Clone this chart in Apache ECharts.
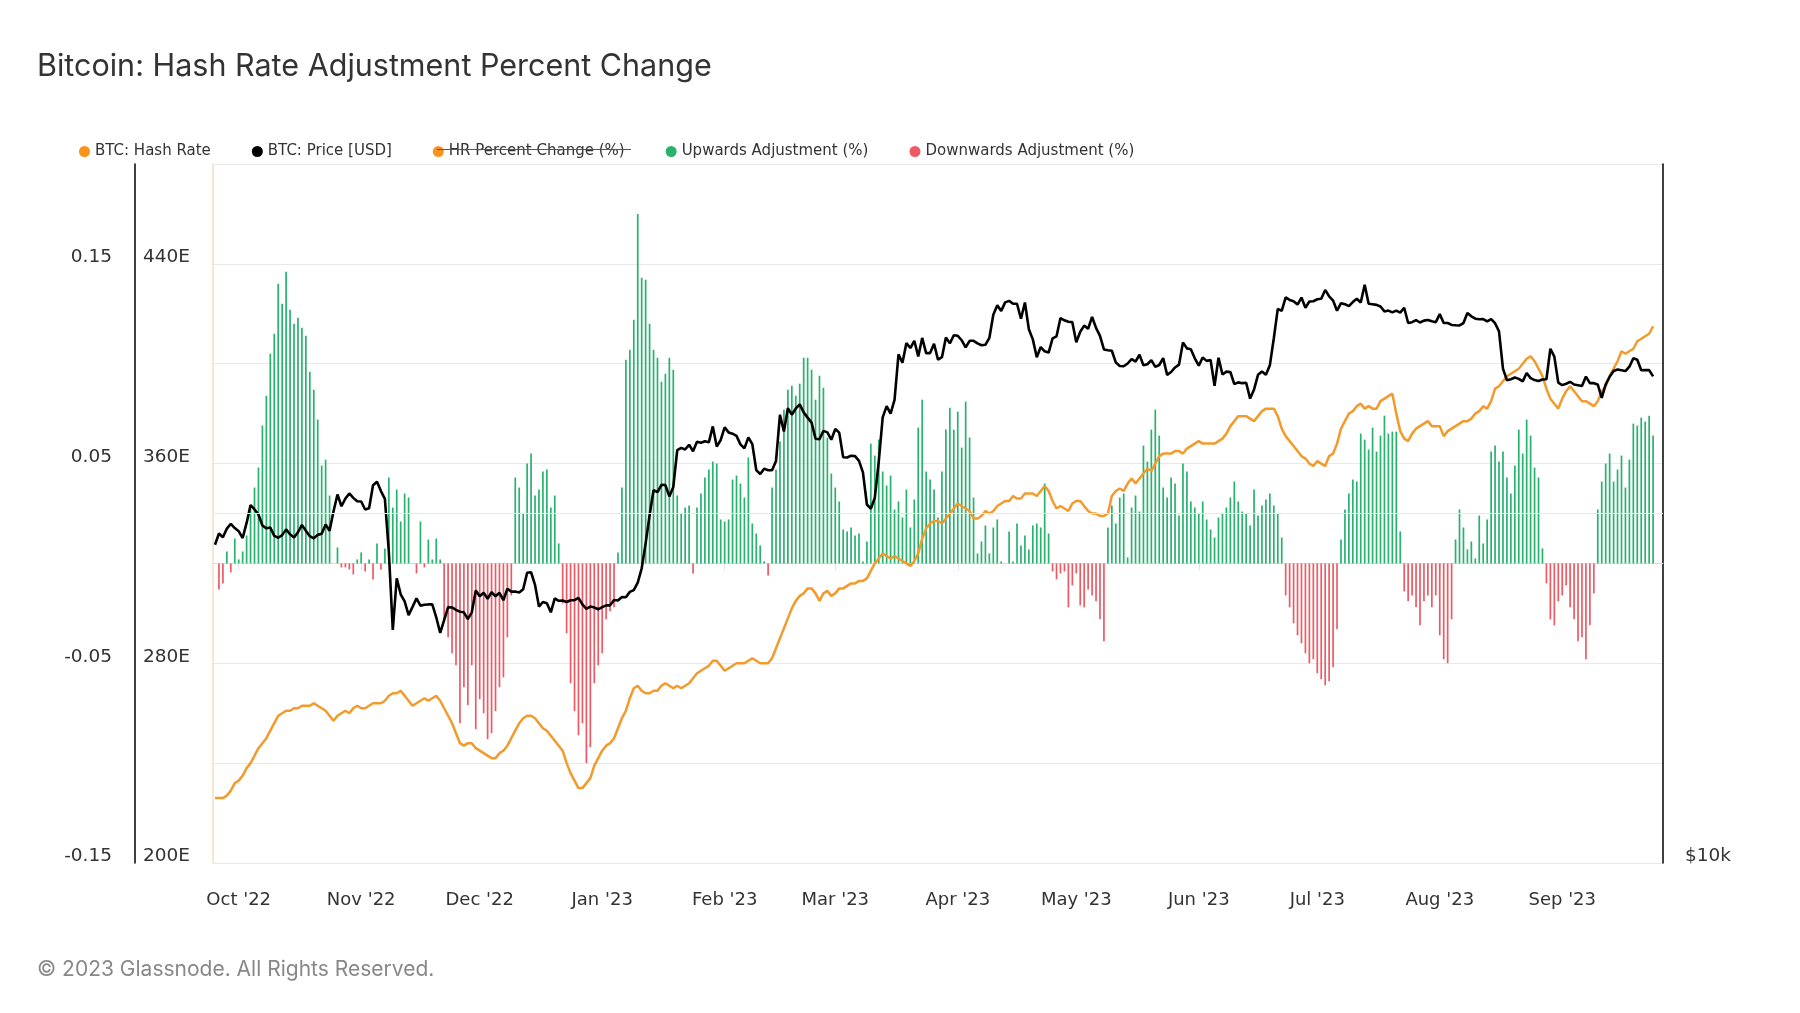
<!DOCTYPE html>
<html><head><meta charset="utf-8">
<script src="https://cdn.jsdelivr.net/npm/echarts@6/dist/echarts.min.js"></script>
<style>html,body{margin:0;padding:0;background:#fff}#c{width:1800px;height:1013px}</style>
</head><body><div id="c"></div>
<script>
// ---- data (daily, first day 2022-09-25) ----
const START_UTC = Date.UTC(2022, 8, 25);
const MONTHS = ['Jan','Feb','Mar','Apr','May','Jun','Jul','Aug','Sep','Oct','Nov','Dec'];
const SERIES_NAMES = ['BTC: Hash Rate','BTC: Price [USD]','HR Percent Change (%)','Upwards Adjustment (%)','Downwards Adjustment (%)'];

// BTC price, thousands of USD
const priceK = [
18.80,19.22,19.08,19.41,19.59,19.43,
19.31,19.05,19.63,20.34,20.16,19.96,19.53,19.42,19.45,19.13,19.06,19.16,19.38,19.19,19.07,19.27,19.55,19.33,19.12,19.04,19.17,19.21,19.57,19.33,20.09,20.77,20.29,20.60,20.81,20.63,20.49,
20.48,20.16,20.21,21.15,21.30,20.91,20.59,18.54,15.88,17.59,17.04,16.80,16.35,16.62,16.90,16.66,16.69,16.70,16.70,16.28,15.78,16.19,16.61,16.60,16.52,16.46,16.44,16.22,16.44,17.17,
16.97,17.09,16.89,17.11,16.97,17.09,16.84,17.23,17.13,17.13,17.10,17.21,17.78,17.80,17.36,16.63,16.78,16.74,16.44,16.90,16.82,16.83,16.78,16.84,16.84,16.92,16.70,16.55,16.63,16.60,16.54,
16.61,16.67,16.67,16.85,16.83,16.95,16.94,17.12,17.18,17.44,17.94,18.85,19.93,20.95,20.87,21.17,21.16,20.69,21.08,22.68,22.78,22.71,22.92,22.63,23.06,23.01,23.08,23.03,23.77,22.84,23.14,
23.73,23.49,23.43,23.33,22.94,22.76,23.26,22.95,21.80,21.63,21.86,21.79,21.79,22.20,24.33,23.53,24.64,24.33,24.63,24.83,24.44,24.19,23.95,23.20,23.17,23.56,23.49,23.15,
23.65,23.48,22.36,22.35,22.43,22.41,22.20,21.70,20.36,20.19,20.63,22.16,24.20,24.75,24.38,25.05,27.42,26.97,28.04,27.77,28.17,27.31,28.33,27.49,27.49,28.00,27.14,27.27,28.35,28.03,28.48,
28.45,28.20,27.80,28.17,28.17,28.03,27.92,27.95,28.33,29.66,30.22,29.89,30.40,30.49,30.32,30.32,29.43,30.39,28.82,28.25,27.27,27.82,27.59,27.52,28.31,28.42,29.47,29.34,29.25,29.23,
28.09,28.68,29.03,28.85,29.53,28.90,28.45,27.69,27.65,27.62,26.99,26.80,26.78,26.93,27.17,27.03,27.40,26.83,26.89,27.11,26.75,26.85,27.22,26.33,26.48,26.72,26.87,28.08,27.75,27.70,27.21,
26.82,27.25,27.07,27.12,25.76,27.24,26.35,26.50,26.48,25.85,25.94,25.90,25.92,25.12,25.58,26.33,26.51,26.34,26.84,28.31,30.01,29.89,30.70,30.55,30.47,30.27,30.69,30.08,30.45,30.47,
30.59,30.62,31.16,30.77,30.51,29.90,30.35,30.29,30.17,30.42,30.62,30.39,31.48,30.32,30.29,30.25,30.15,29.86,29.91,29.80,29.91,29.79,30.08,29.18,29.23,29.35,29.21,29.32,29.36,29.28,29.23,
29.70,29.18,29.18,29.07,29.05,29.04,29.18,29.77,29.57,29.43,29.40,29.41,29.28,29.41,29.17,28.70,26.66,26.05,26.10,26.19,26.12,25.99,26.43,26.16,26.06,26.01,26.09,26.10,27.73,27.30,25.93,
25.80,25.87,25.97,25.83,25.79,25.75,26.24,25.90,25.90,25.83,25.16,25.84,26.23,26.53,26.61,26.57,26.53,26.76,27.21,27.13,26.57,26.58,26.58,26.25
];

// Hash rate, EH/s
const hashRateE = [
226,226,226,227,229,232,233,235,238,240,
243,246,248,250,253,256,259,260,261,261,
262,262,263,263,263,264,263,262,261,259,
257,259,260,261,260,262,263,262,262,263,
264,264,264,265,267,268,268,269,267,265,
263,264,265,266,265,266,267,265,262,259,
256,252,248,247,248,248,246,245,244,243,
242,242,244,245,247,250,253,256,258,259,
259,258,256,254,253,251,249,247,245,240,
236,233,230,230,232,234,239,242,245,247,
248,250,254,258,261,266,270,271,269,268,
268,269,269,271,272,271,270,271,270,271,
272,274,276,277,278,279,281,281,279,277,
278,279,280,280,280,281,282,281,280,280,
280,282,286,290,294,298,302,305,307,308,
310,310,308,305,308,309,307,308,310,310,
311,312,312,313,313,314,317,320,322,324,
323,322,323,322,321,320,319,321,324,330,
334,336,337,337,336,338,340,342,344,343,
342,341,338,338,339,341,340,341,343,344,
345,345,347,346,346,348,348,348,347,349,
351,349,345,342,343,342,341,344,345,345,
343,341,340,340,339,339,340,347,349,350,
349,352,354,352,354,356,358,357,360,363,
364,364,364,365,365,364,366,367,368,369,
368,368,368,368,369,370,372,375,377,379,
379,379,378,377,379,381,382,382,382,379,
374,371,369,367,365,363,362,360,359,361,
360,359,363,364,368,374,377,380,381,383,
384,382,383,382,382,385,386,387,388,380,
373,370,369,372,374,375,376,377,375,375,
375,371,373,374,375,376,377,377,378,380,
381,383,382,385,390,391,393,395,396,397,
398,400,402,403,401,398,395,390,386,384,
382,386,389,391,389,387,385,385,384,383,
385,389,391,395,398,401,405,404,405,406,
409,410,411,412,415
];

// Hash rate adjustment percent change (fraction)
const hrPctChange = [
0,-0.013,-0.010,0.006,-0.0045,0.0125,0.002,0.006,0.014,0.027,
0.038,0.048,0.069,0.084,0.105,0.115,0.140,0.130,0.146,0.127,
0.120,0.123,0.118,0.114,0.096,0.087,0.072,0.049,0.052,0.034,
0,0.008,-0.002,-0.002,-0.003,-0.0055,0.002,0.0055,-0.004,0.002,
-0.008,0.010,-0.003,0.0075,0.043,0.028,0.037,0.021,0.035,0.033,
0,-0.005,0.021,-0.002,0.012,0.002,0.0125,0.002,-0.028,-0.037,
-0.045,-0.051,-0.080,-0.062,-0.071,-0.051,-0.083,-0.068,-0.075,-0.088,
-0.085,-0.074,-0.062,-0.057,-0.037,-0.016,0.043,0.038,0.025,0.050,
0.055,0.034,0.037,0.046,0.047,0.028,0.034,0.010,-0.020,-0.035,
-0.060,-0.074,-0.086,-0.080,-0.100,-0.092,-0.060,-0.051,-0.045,-0.028,
-0.024,-0.022,0.0055,0.038,0.102,0.107,0.122,0.175,0.143,0.142,
0.120,0.107,0.103,0.091,0.095,0.103,0.097,0.034,0.025,0.028,
0.029,-0.005,0.028,0.035,0.043,0.047,0.051,0.050,0.022,0.021,
0.022,0.042,0.044,0.040,0.033,0.053,0.020,0.015,0.009,0.001,
-0.006,0.038,0.047,0.061,0.077,0.087,0.089,0.084,0.090,0.103,
0.103,0.097,0.082,0.094,0.088,0.063,0.045,0.038,0.031,0.017,
0.016,0.018,0.014,0.015,0.001,0.011,0.060,0.054,0.062,0.046,
0.039,0.044,0.027,0.031,0.023,0.037,0.018,0.032,0.068,0.082,
0.046,0.042,0.037,0.023,0.046,0.067,0.078,0.067,0.076,0.058,
0.081,0.063,0.033,0.005,0.011,0.019,0.005,0.018,0.022,0.001,
0,0.016,0.001,0.020,0.009,0.014,0.007,0.019,0.020,0.018,
0.040,0.015,-0.004,-0.008,-0.005,-0.004,-0.022,-0.011,-0.005,-0.021,
-0.022,-0.013,-0.016,-0.019,-0.028,-0.039,0.018,0.029,0.020,0.033,
0.035,0.003,0.028,0.034,0.026,0.059,0.051,0.067,0.077,0.064,
0.038,0.033,0.043,0.040,0.024,0.050,0.046,0.031,0.028,0.025,
0.031,0.022,0.017,0.013,0.023,0.025,0.028,0.033,0.041,0.031,
0.026,0.025,0.019,0.037,0.024,0.029,0.032,0.035,0.029,0.025,
0.013,-0.016,-0.022,-0.030,-0.036,-0.040,-0.045,-0.050,-0.048,-0.055,
-0.058,-0.061,-0.059,-0.052,-0.033,0.012,0.027,0.035,0.042,0.041,
0.065,0.062,0.057,0.068,0.056,0.064,0.074,0.065,0.066,0.066,
0.016,-0.014,-0.019,-0.016,-0.022,-0.031,-0.019,-0.016,-0.022,-0.016,
-0.036,-0.048,-0.050,-0.028,0.012,0.027,0.018,0.007,0.011,0.0025,
0.024,0.010,0.022,0.056,0.059,0.051,0.056,0.043,0.035,0.049,
0.067,0.055,0.072,0.064,0.048,0.043,0.0075,-0.010,-0.028,-0.031,
-0.019,-0.016,-0.011,-0.022,-0.028,-0.039,-0.037,-0.048,-0.031,-0.015,
0.027,0.041,0.050,0.055,0.041,0.047,0.054,0.038,0.052,0.070,
0.069,0.073,0.071,0.074,0.064
];

// ---- build ----
const DAY = 86400000;
const dates = hashRateE.map((_, i) => START_UTC + i * DAY);
const hashData = hashRateE.map((v, i) => [dates[i], v]);
const priceData = priceK.map((v, i) => [dates[i], v * 1000]);
const upData = hrPctChange.map((v, i) => [dates[i], v > 0 ? v : null]);
const downData = hrPctChange.map((v, i) => [dates[i], v < 0 ? v : null]);

const TXT = '#333';
const GRID = '#e8e8e8';
const ORANGE = '#f7931a';
const yRich = {t: {fontFamily: 'DejaVu Sans', fontSize: 18.5, color: TXT, lineHeight: 13}};
const wrap = (s) => '{t|' + s + '}';

const chart = echarts.init(document.getElementById('c'), null, {renderer: 'canvas'});
chart.setOption({
  animation: false,
  useUTC: true,
  backgroundColor: '#fff',
  title: [
    {text: 'Bitcoin: Hash Rate Adjustment Percent Change', left: 32, top: 46,
     textStyle: {fontFamily: 'Inter', fontSize: 30.5, fontWeight: 'normal', color: '#333'}},
    {text: '© 2023 Glassnode. All Rights Reserved.', left: 32, top: 954,
     textStyle: {fontFamily: 'Inter', fontSize: 21, fontWeight: 'normal', color: '#888'}}
  ],
  legend: {
    left: 74, top: 139, icon: 'circle', itemWidth: 11, itemHeight: 11, itemGap: 41,
    data: SERIES_NAMES,
    textStyle: {fontFamily: 'DejaVu Sans', fontSize: 15, color: TXT},
    selectedMode: false
  },
  grid: {left: 213, right: 137, top: 164, bottom: 150, containLabel: false},
  xAxis: {
    type: 'time',
    min: Date.UTC(2022, 8, 24, 17),
    max: Date.UTC(2023, 8, 26, 7),
    splitNumber: 12,
    maxInterval: 31 * DAY,
    axisLine: {lineStyle: {color: '#dcdcdc'}},
    axisTick: {show: true, length: 7, lineStyle: {color: '#e4e4e4'}},
    splitLine: {show: false},
    axisLabel: {
      margin: 28, fontFamily: 'DejaVu Sans', fontSize: 18, color: TXT,
      formatter: (v) => { const d = new Date(v); return MONTHS[d.getUTCMonth()] + " '" + String(d.getUTCFullYear()).slice(2); }
    }
  },
  yAxis: [
    { // hash rate
      type: 'value', position: 'left', min: 200, max: 480, interval: 40,
      axisLine: {show: true, lineStyle: {color: '#f6dfc0', width: 1.5}},
      axisTick: {show: false},
      splitLine: {show: true, lineStyle: {color: GRID}},
      axisLabel: {align: 'left', margin: 70, verticalAlign: 'bottom', rich: yRich,
        formatter: (v) => ((v - 200) % 80 === 0 ? wrap(v + 'E') : '')}
    },
    { // percent change
      type: 'value', position: 'left', offset: 78, min: -0.15, max: 0.2, interval: 0.05,
      axisLine: {show: true, lineStyle: {color: '#000', width: 1.5}},
      axisTick: {show: false},
      splitLine: {show: false},
      axisLabel: {margin: 23, verticalAlign: 'bottom', rich: yRich,
        formatter: (v) => (Math.round((v + 0.15) * 100) % 10 === 0 ? wrap(v.toFixed(2)) : '')}
    },
    { // price
      type: 'log', logBase: 10, position: 'right', min: 10000, max: 40000,
      axisLine: {show: true, lineStyle: {color: '#000', width: 1.5}},
      axisTick: {show: false},
      splitLine: {show: false},
      axisLabel: {margin: 22, verticalAlign: 'bottom', rich: yRich,
        formatter: (v) => (Math.abs(v - 10000) < 1 ? wrap('$10k') : '')}
    }
  ],
  series: [
    {name: SERIES_NAMES[3], type: 'bar', yAxisIndex: 1, stack: 'adj', data: upData,
     barWidth: 1.7, itemStyle: {color: '#27b26e'}, z: 1},
    {name: SERIES_NAMES[4], type: 'bar', yAxisIndex: 1, stack: 'adj', data: downData,
     barWidth: 1.7, itemStyle: {color: '#ee5a64'}, z: 1},
    {name: SERIES_NAMES[2], type: 'line', yAxisIndex: 1, data: [], color: '#f7941d', showSymbol: false},
    {name: SERIES_NAMES[0], type: 'line', yAxisIndex: 0, data: hashData, color: ORANGE,
     showSymbol: false, lineStyle: {width: 2.5, color: '#f39a2c'}, z: 3},
    {name: SERIES_NAMES[1], type: 'line', yAxisIndex: 2, data: priceData, color: '#000',
     showSymbol: false, lineStyle: {width: 2.6, color: '#000'}, z: 4,
     markLine: {silent: true, symbol: 'none', label: {show: false},
       lineStyle: {color: GRID, type: 'solid', width: 1}, data: [{yAxis: 20000}]}}
  ],
  graphic: [
    {type: 'line', shape: {x1: 437, y1: 149.5, x2: 631, y2: 149.5}, style: {stroke: '#555', lineWidth: 1.2}, z: 100}
  ]
});
</script>
</body></html>
